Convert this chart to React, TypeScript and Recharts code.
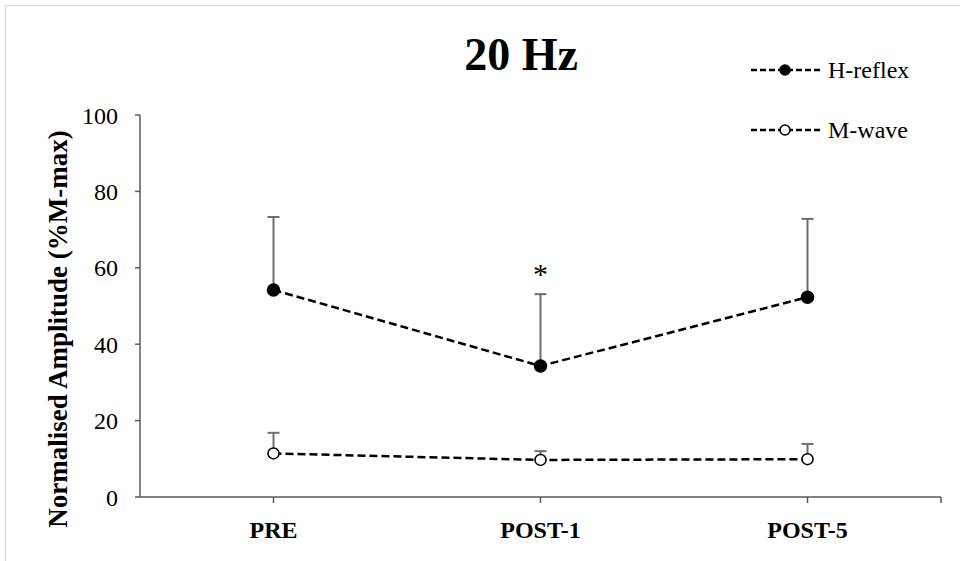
import { ErrorBar, Line, LineChart, ReferenceDot, XAxis, YAxis } from "recharts";

const categories = ["PRE", "POST-1", "POST-5"];
const hReflexMean = [54.2, 34.3, 52.3];
const hReflexSd = [19.1, 18.8, 20.5];
const mWaveMean = [11.4, 9.7, 9.9];
const mWaveSd = [5.4, 2.3, 4.0];
const significance = ["", "*", ""];
const yTicks = [0, 20, 40, 60, 80, 100];
const xTicks = [0.5, 1.5, 2.5, 3];

const FONT = "'Liberation Serif', 'Times New Roman', serif";

const data = categories.map((c, i) => ({
  x: i + 0.5,
  name: c,
  h: hReflexMean[i],
  hErr: [0, hReflexSd[i]],
  m: mWaveMean[i],
  mErr: [0, mWaveSd[i]],
  sig: significance[i],
}));

const series = [
  { key: "h", err: "hErr", name: "H-reflex", fill: "#000", r: 6 },
  { key: "m", err: "mErr", name: "M-wave", fill: "#fff", r: 5.5 },
];

// legend sits outside recharts so it doesn't eat plot margin
function LegendBox() {
  return (
    <div style={{ position: "absolute", left: 750, top: 55, fontFamily: FONT, fontSize: 24, color: "#000" }}>
      {series.map((s, i) => (
        <div key={s.name} style={{ display: "flex", alignItems: "center", height: 30, marginBottom: i === 0 ? 30 : 0 }}>
          <svg width={72} height={16} style={{ marginRight: 6 }}>
            <line x1={1} y1={8} x2={71} y2={8} stroke="#000" strokeWidth={2.5} strokeDasharray="6 3" />
            <circle cx={35} cy={8} r={5} fill={s.fill} stroke="#000" strokeWidth={1.5} />
          </svg>
          <span>{s.name}</span>
        </div>
      ))}
    </div>
  );
}

function YLabel({ viewBox }: any) {
  const x = 67;
  const y = viewBox.y + viewBox.height / 2 + 23;
  return (
    <text x={x} y={y} transform={`rotate(-90, ${x}, ${y})`} textAnchor="middle"
      fontFamily={FONT} fontWeight="bold" fontSize={27} fill="#000">
      Normalised Amplitude (%M-max)
    </text>
  );
}

export default function App() {
  return (
    <div style={{ position: "absolute", left: 0, top: 0, width: 960, height: 561, overflow: "hidden", background: "#fff" }}>
      <div style={{ position: "absolute", left: 5, top: 5, width: 1100, height: 700, border: "1.5px solid #d9d9d9" }} />
      <div style={{ position: "absolute", left: 0, top: 30, width: 1042, textAlign: "center", fontFamily: FONT, fontWeight: "bold", fontSize: 46, lineHeight: "50px" }}>
        20 Hz
      </div>
      <LineChart width={960} height={561} data={data} margin={{ top: 115, right: 19, bottom: 24, left: 20 }}
        style={{ position: "absolute", left: 0, top: 0 }}>
        <XAxis dataKey="x" type="number" domain={[0, 3]} ticks={xTicks}
          tickFormatter={(v: number) => categories[Math.floor(v)] ?? ""}
          stroke="#595959" strokeWidth={1.5} tickSize={6} tickMargin={18} height={40}
          tick={{ fill: "#000", fontFamily: FONT, fontWeight: "bold", fontSize: 24 }} />
        <YAxis domain={[0, 100]} ticks={yTicks} width={120} stroke="#595959" strokeWidth={1.5}
          tickSize={5} tickMargin={17}
          tick={{ fill: "#000", fontFamily: FONT, fontSize: 24 }}
          label={<YLabel />} />
        {series.map((s) => (
          <Line key={s.key} dataKey={s.key} name={s.name} stroke="#000" strokeWidth={2.5} strokeDasharray="8 4"
            dot={false} activeDot={false} isAnimationActive={false}>
            {/* width here is the half-width of the cap */}
            <ErrorBar dataKey={s.err} width={6} stroke="#6e6e6e" strokeWidth={2} direction="y" />
          </Line>
        ))}
        {/* markers drawn again on top so the lower error caps hide under them */}
        {series.map((s) => (
          <Line key={s.key + "-dots"} dataKey={s.key} stroke="none" legendType="none"
            dot={{ r: s.r, fill: s.fill, stroke: "#000", strokeWidth: 1.5, strokeDasharray: "" }}
            activeDot={false} isAnimationActive={false} />
        ))}
        {data.filter((d) => d.sig).map((d) => (
          <ReferenceDot key={d.name} x={d.x} y={d.h + d.hErr[1]} r={0} stroke="none"
            label={{ value: d.sig, position: "top", offset: 10, fill: "#000", fontFamily: FONT, fontSize: 30 }} />
        ))}
      </LineChart>
      <LegendBox />
    </div>
  );
}
